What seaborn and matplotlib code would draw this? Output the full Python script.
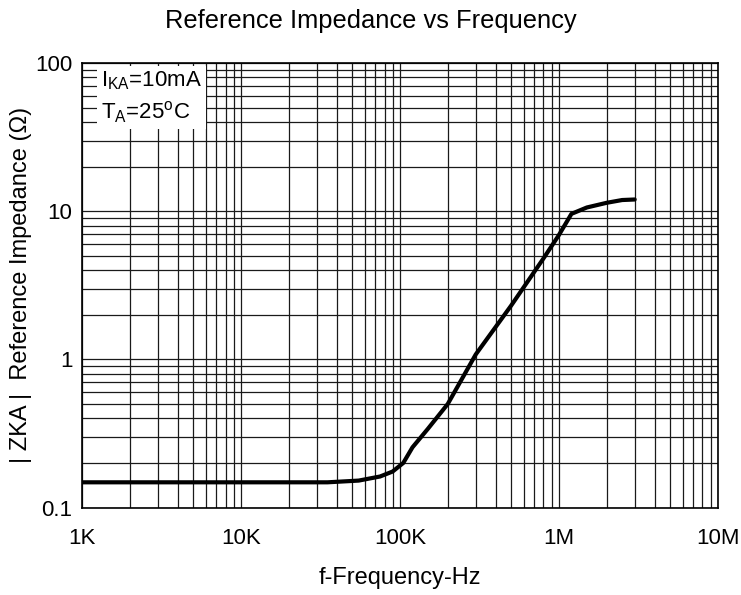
import numpy as np
import pandas as pd
import matplotlib
matplotlib.use("Agg")
import matplotlib.pyplot as plt
import matplotlib.ticker as mticker
import seaborn as sns

# values (frequency in Hz, |ZKA| in ohm)
freq = [1e3, 1e4, 3.5e4, 5.5e4, 7.5e4, 9e4, 1.05e5, 1.2e5, 1.5e5, 2e5,
        3e5, 5e5, 8e5, 1e6, 1.2e6, 1.5e6, 2e6, 2.5e6, 3e6]
zka = [0.148, 0.148, 0.148, 0.152, 0.162, 0.175, 0.20, 0.255, 0.34, 0.50,
       1.08, 2.3, 4.8, 6.9, 9.6, 10.6, 11.4, 11.9, 12.0]

x_ticks = [1e3, 1e4, 1e5, 1e6, 1e7]
x_labels = ["1K", "10K", "100K", "1M", "10M"]
y_ticks = [0.1, 1, 10, 100]
y_labels = ["0.1", "1", "10", "100"]

df = pd.DataFrame({"f": freq, "z": zka})

sns.set_style("white")
plt.rcParams['font.family'] = ['Liberation Sans', 'DejaVu Sans']
plt.rcParams['mathtext.default'] = 'regular'
plt.rcParams['text.color'] = 'black'
plt.rcParams['axes.labelcolor'] = 'black'
plt.rcParams['xtick.color'] = 'black'
plt.rcParams['ytick.color'] = 'black'

fig = plt.figure(figsize=(7.41, 5.95), dpi=100)
ax = fig.add_axes([0.1107, 0.147, 0.858, 0.747])

sns.lineplot(data=df, x="f", y="z", color="black", linewidth=3, ax=ax)

ax.set_xscale("log")
ax.set_yscale("log")
ax.set_xlim(1e3, 1e7)
ax.set_ylim(0.1, 100)

ax.xaxis.set_major_locator(mticker.FixedLocator(x_ticks))
ax.xaxis.set_major_formatter(mticker.FixedFormatter(x_labels))
ax.yaxis.set_major_locator(mticker.FixedLocator(y_ticks))
ax.yaxis.set_major_formatter(mticker.FixedFormatter(y_labels))
ax.xaxis.set_minor_locator(mticker.LogLocator(base=10, subs=np.arange(2, 10)))
ax.yaxis.set_minor_locator(mticker.LogLocator(base=10, subs=np.arange(2, 10)))
ax.xaxis.set_minor_formatter(mticker.NullFormatter())
ax.yaxis.set_minor_formatter(mticker.NullFormatter())

ax.grid(True, which="both", color="#1a1a1a", linewidth=0.9)
ax.set_axisbelow(True)
ax.tick_params(which="both", length=0, labelsize=16, labelcolor="black")
ax.tick_params(axis="x", pad=15)
ax.tick_params(axis="y", pad=7)
for s in ax.spines.values():
    s.set_color("black")
    s.set_linewidth(1.2)

ax.set_xlabel("f-Frequency-Hz", fontsize=17, labelpad=13, color="black")
ax.set_ylabel("| ZKA |  Reference Impedance (Ω)", fontsize=17, labelpad=2, color="black")
# title sits over the centre of the figure, not the axes
ax.set_title("Reference Impedance vs Frequency", fontsize=18.4, pad=25, x=0.4536, color="black")

ax.text(0.03, 0.985, "$I_{KA}$=10mA\n$T_A$=25$^o$C", transform=ax.transAxes,
        va="top", ha="left", fontsize=16, linespacing=1.35, color="black",
        bbox=dict(facecolor="white", edgecolor="none", pad=3))

fig.savefig("out.png", dpi=100)
